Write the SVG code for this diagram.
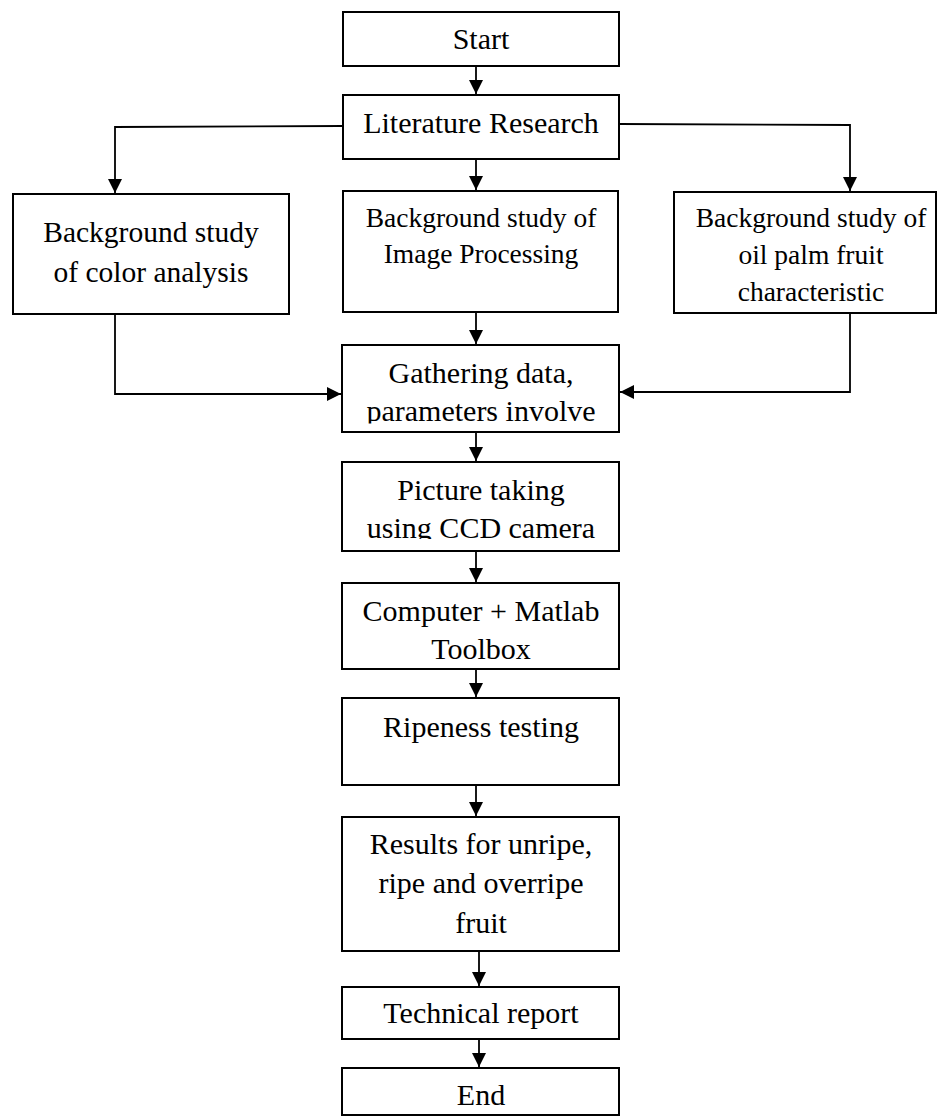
<svg xmlns="http://www.w3.org/2000/svg" width="938" height="1117" viewBox="0 0 938 1117">
  <style>
    .box { fill: #ffffff; stroke: #000000; stroke-width: 2; }
    .lbl { font-family: "Liberation Serif", "Times New Roman", serif; font-size: 30px; fill: #000000; text-anchor: middle; }
    .sm { font-size: 27.5px; }
    .md { font-size: 29.5px; }
    .wire { fill: none; stroke: #000000; stroke-width: 1.8; marker-end: url(#head); }
  </style>
  <defs>
    <marker id="head" viewBox="0 0 14 14" refX="14" refY="7" markerWidth="14" markerHeight="14" markerUnits="userSpaceOnUse" orient="auto">
      <path d="M0,0 L14,7 L0,14 z" fill="#000000"/>
    </marker>
    <!-- text areas of the boxes whose last line is cut off by the inner margin -->
    <clipPath id="clipGather"><rect x="342" y="345" width="277" height="78.5"/></clipPath>
    <clipPath id="clipPicture"><rect x="342" y="462" width="277" height="77"/></clipPath>
    <clipPath id="clipComputer"><rect x="342" y="583" width="277" height="77"/></clipPath>
  </defs>

  <rect width="938" height="1117" fill="#ffffff"/>

  <g id="connectors">
    <path class="wire" d="M476,66 L476,94"/>
    <path class="wire" d="M343,126 L115,127 L115,193"/>
    <path class="wire" d="M476,160 L476,190"/>
    <path class="wire" d="M619,124 L850,125 L850,191"/>
    <path class="wire" d="M476,312 L476,344"/>
    <path class="wire" d="M115,315 L115,394 L341,394"/>
    <path class="wire" d="M850,313 L850,392 L620,392"/>
    <path class="wire" d="M476,432 L476,461"/>
    <path class="wire" d="M476,551 L476,582"/>
    <path class="wire" d="M476,669 L476,697"/>
    <path class="wire" d="M476,785 L476,816"/>
    <path class="wire" d="M479,951 L479,986"/>
    <path class="wire" d="M479,1039 L479,1067"/>
  </g>

  <g id="start">
    <rect class="box" x="343" y="12" width="276" height="54"/>
    <text class="lbl" x="481" y="49">Start</text>
  </g>

  <g id="literature">
    <rect class="box" x="343" y="95" width="276" height="64"/>
    <text class="lbl" x="481" y="133">Literature Research</text>
  </g>

  <g id="color-analysis">
    <rect class="box" x="13" y="194" width="276" height="120"/>
    <text class="lbl md" x="151" y="242">Background study</text>
    <text class="lbl md" x="151" y="282">of color analysis</text>
  </g>

  <g id="image-processing">
    <rect class="box" x="343" y="191" width="275" height="121"/>
    <text class="lbl sm" x="481" y="227">Background study of</text>
    <text class="lbl sm" x="481" y="263">Image Processing</text>
  </g>

  <g id="fruit-characteristic">
    <rect class="box" x="674" y="192" width="262" height="121"/>
    <text class="lbl sm" x="811" y="227">Background study of</text>
    <text class="lbl sm" x="811" y="264">oil palm fruit</text>
    <text class="lbl sm" x="811" y="301">characteristic</text>
  </g>

  <g id="gathering">
    <rect class="box" x="342" y="345" width="277" height="87"/>
    <g clip-path="url(#clipGather)">
      <text class="lbl" x="481" y="383">Gathering data,</text>
      <text class="lbl" x="481" y="421">parameters involve</text>
    </g>
  </g>

  <g id="picture">
    <rect class="box" x="342" y="462" width="277" height="89"/>
    <g clip-path="url(#clipPicture)">
      <text class="lbl" x="481" y="500">Picture taking</text>
      <text class="lbl" x="481" y="538">using CCD camera</text>
    </g>
  </g>

  <g id="computer">
    <rect class="box" x="342" y="583" width="277" height="86"/>
    <g clip-path="url(#clipComputer)">
      <text class="lbl" x="481" y="621">Computer + Matlab</text>
      <text class="lbl" x="481" y="659">Toolbox</text>
    </g>
  </g>

  <g id="ripeness">
    <rect class="box" x="342" y="698" width="277" height="87"/>
    <text class="lbl" x="481" y="737">Ripeness testing</text>
  </g>

  <g id="results">
    <rect class="box" x="342" y="817" width="277" height="134"/>
    <text class="lbl" x="481" y="854">Results for unripe,</text>
    <text class="lbl" x="481" y="893">ripe and overripe</text>
    <text class="lbl" x="481" y="933">fruit</text>
  </g>

  <g id="technical">
    <rect class="box" x="342" y="987" width="277" height="52"/>
    <text class="lbl" x="481" y="1023">Technical report</text>
  </g>

  <g id="end">
    <rect class="box" x="342" y="1068" width="277" height="47"/>
    <text class="lbl" x="481" y="1105">End</text>
  </g>
</svg>
